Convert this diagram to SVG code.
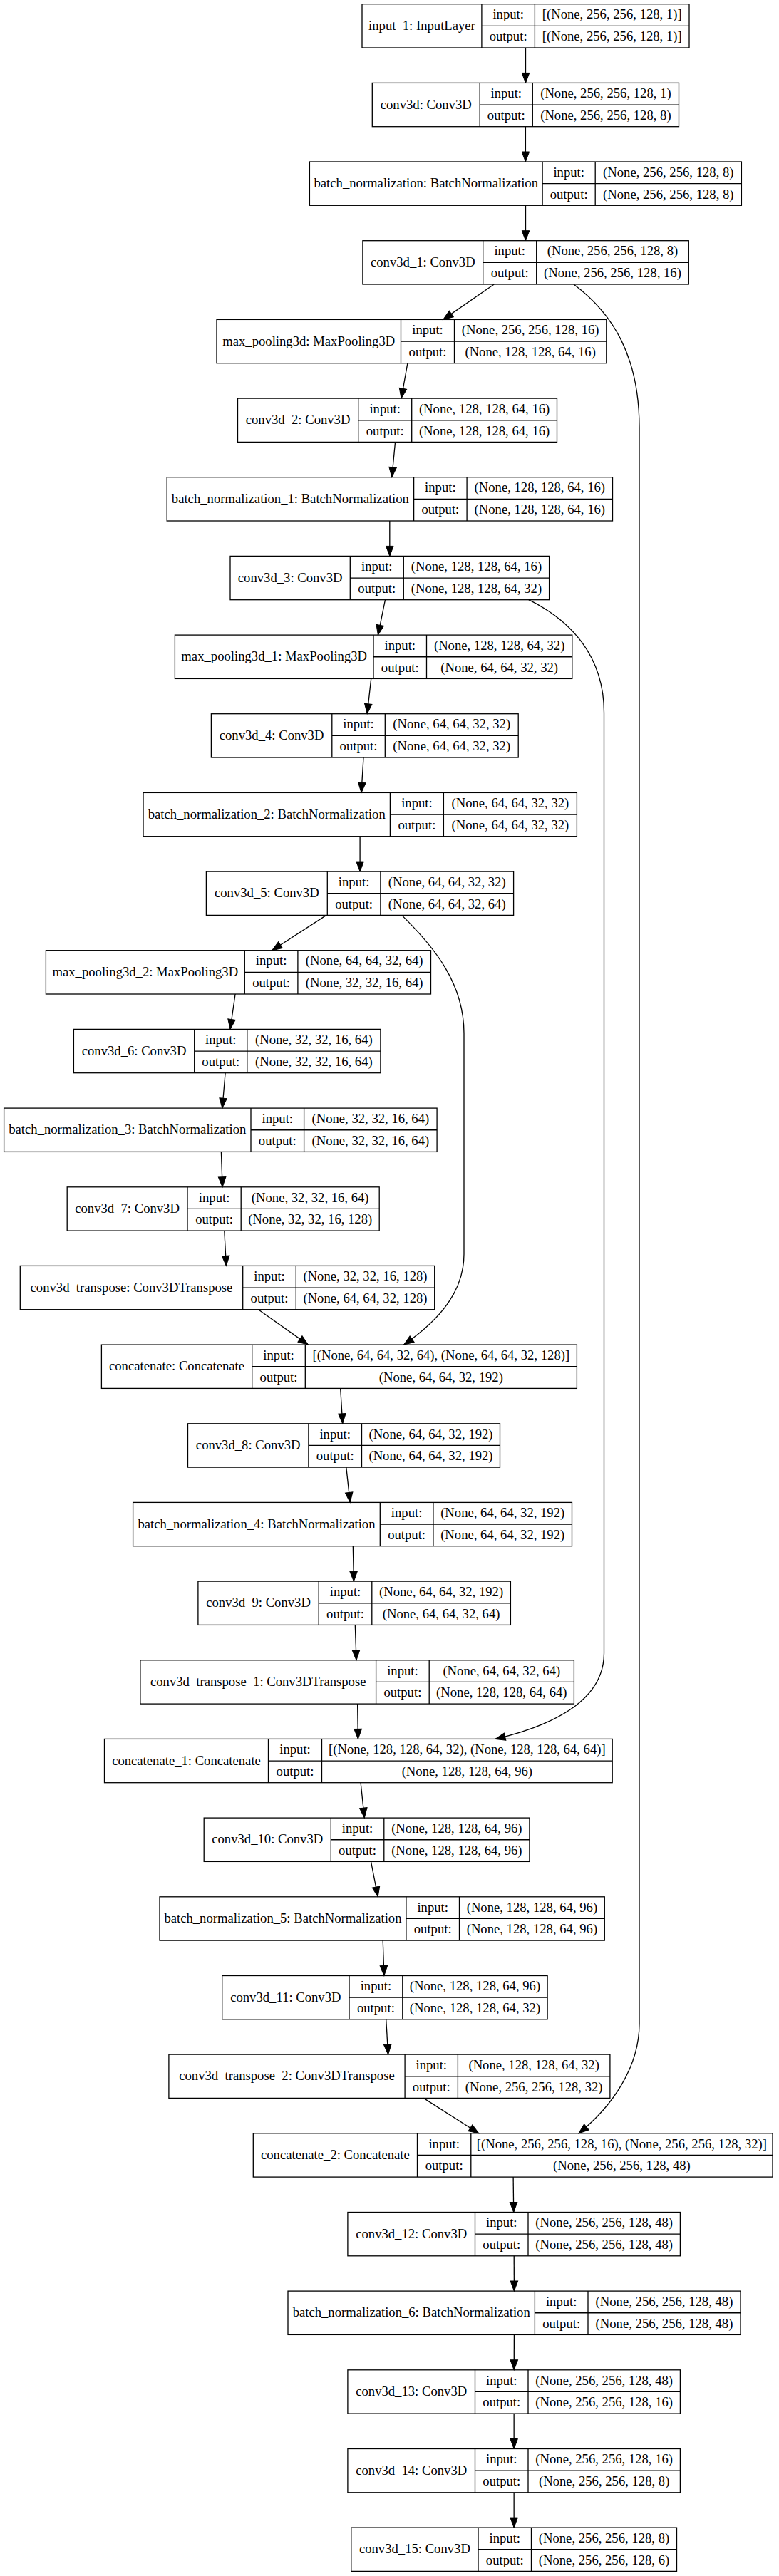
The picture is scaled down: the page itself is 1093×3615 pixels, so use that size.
<svg xmlns="http://www.w3.org/2000/svg" width="1093" height="3615" viewBox="0 0 1093 3615">
<style>
.b{fill:#fff;stroke:#000;stroke-width:1.3}
.l{fill:none;stroke:#000;stroke-width:1.3}
text{font-family:"Liberation Serif","Times New Roman",serif;font-size:18.67px;text-anchor:middle;fill:#000}
.e{fill:none;stroke:#000;stroke-width:1.3;marker-end:url(#ah)}
</style>
<defs>
<marker id="ah" markerUnits="userSpaceOnUse" markerWidth="16" markerHeight="12" refX="14" refY="5.25" orient="auto" overflow="visible"><path d="M0,0 L14,5.25 L0,10.5 z" fill="#000" stroke="#000" stroke-width="1"/></marker>
</defs>
<rect width="1093" height="3615" fill="#fff"/>
<g id="nodes">
<g id="input_1" transform="translate(0,5.7)"><rect class="b" x="508" y="0" width="459" height="61.3"/><path class="l" d="M675.9,0V61.3M750.4,0V61.3M675.9,30.65H967"/><text x="591.95" y="36.2">input_1: InputLayer</text><text x="713.15" y="20.8">input:</text><text x="713.15" y="51.5">output:</text><text x="858.7" y="20.8">[(None, 256, 256, 128, 1)]</text><text x="858.7" y="51.5">[(None, 256, 256, 128, 1)]</text></g>
<g id="conv3d" transform="translate(0,116.4)"><rect class="b" x="522.3" y="0" width="430.2" height="61.3"/><path class="l" d="M673.2,0V61.3M747.3,0V61.3M673.2,30.65H952.5"/><text x="597.75" y="36.2">conv3d: Conv3D</text><text x="710.25" y="20.8">input:</text><text x="710.25" y="51.5">output:</text><text x="849.9" y="20.8">(None, 256, 256, 128, 1)</text><text x="849.9" y="51.5">(None, 256, 256, 128, 8)</text></g>
<g id="batch_normalization" transform="translate(0,227)"><rect class="b" x="434.4" y="0" width="606" height="61.3"/><path class="l" d="M761.1,0V61.3M835.2,0V61.3M761.1,30.65H1040.4"/><text x="597.75" y="36.2">batch_normalization: BatchNormalization</text><text x="798.15" y="20.8">input:</text><text x="798.15" y="51.5">output:</text><text x="937.8" y="20.8">(None, 256, 256, 128, 8)</text><text x="937.8" y="51.5">(None, 256, 256, 128, 8)</text></g>
<g id="conv3d_1" transform="translate(0,337.7)"><rect class="b" x="508.9" y="0" width="457.4" height="61.3"/><path class="l" d="M677.7,0V61.3M752.7,0V61.3M677.7,30.65H966.3"/><text x="593.3" y="36.2">conv3d_1: Conv3D</text><text x="715.2" y="20.8">input:</text><text x="715.2" y="51.5">output:</text><text x="859.5" y="20.8">(None, 256, 256, 128, 8)</text><text x="859.5" y="51.5">(None, 256, 256, 128, 16)</text></g>
<g id="max_pooling3d" transform="translate(0,448.4)"><rect class="b" x="304" y="0" width="546.8" height="61.3"/><path class="l" d="M562.5,0V61.3M637.5,0V61.3M562.5,30.65H850.8"/><text x="433.25" y="36.2">max_pooling3d: MaxPooling3D</text><text x="600" y="20.8">input:</text><text x="600" y="51.5">output:</text><text x="744.15" y="20.8">(None, 256, 256, 128, 16)</text><text x="744.15" y="51.5">(None, 128, 128, 64, 16)</text></g>
<g id="conv3d_2" transform="translate(0,559.1)"><rect class="b" x="333.5" y="0" width="448" height="61.3"/><path class="l" d="M502.7,0V61.3M577.7,0V61.3M502.7,30.65H781.5"/><text x="418.1" y="36.2">conv3d_2: Conv3D</text><text x="540.2" y="20.8">input:</text><text x="540.2" y="51.5">output:</text><text x="679.6" y="20.8">(None, 128, 128, 64, 16)</text><text x="679.6" y="51.5">(None, 128, 128, 64, 16)</text></g>
<g id="batch_normalization_1" transform="translate(0,669.7)"><rect class="b" x="234.2" y="0" width="625.3" height="61.3"/><path class="l" d="M580.6,0V61.3M655.1,0V61.3M580.6,30.65H859.5"/><text x="407.4" y="36.2">batch_normalization_1: BatchNormalization</text><text x="617.85" y="20.8">input:</text><text x="617.85" y="51.5">output:</text><text x="757.3" y="20.8">(None, 128, 128, 64, 16)</text><text x="757.3" y="51.5">(None, 128, 128, 64, 16)</text></g>
<g id="conv3d_3" transform="translate(0,780.4)"><rect class="b" x="323" y="0" width="447.6" height="61.3"/><path class="l" d="M491.3,0V61.3M566.3,0V61.3M491.3,30.65H770.6"/><text x="407.15" y="36.2">conv3d_3: Conv3D</text><text x="528.8" y="20.8">input:</text><text x="528.8" y="51.5">output:</text><text x="668.45" y="20.8">(None, 128, 128, 64, 16)</text><text x="668.45" y="51.5">(None, 128, 128, 64, 32)</text></g>
<g id="max_pooling3d_1" transform="translate(0,891.1)"><rect class="b" x="245.4" y="0" width="557.4" height="61.3"/><path class="l" d="M524,0V61.3M598.5,0V61.3M524,30.65H802.8"/><text x="384.7" y="36.2">max_pooling3d_1: MaxPooling3D</text><text x="561.25" y="20.8">input:</text><text x="561.25" y="51.5">output:</text><text x="700.65" y="20.8">(None, 128, 128, 64, 32)</text><text x="700.65" y="51.5">(None, 64, 64, 32, 32)</text></g>
<g id="conv3d_4" transform="translate(0,1001.7)"><rect class="b" x="296.4" y="0" width="430.8" height="61.3"/><path class="l" d="M465.8,0V61.3M540.3,0V61.3M465.8,30.65H727.2"/><text x="381.1" y="36.2">conv3d_4: Conv3D</text><text x="503.05" y="20.8">input:</text><text x="503.05" y="51.5">output:</text><text x="633.75" y="20.8">(None, 64, 64, 32, 32)</text><text x="633.75" y="51.5">(None, 64, 64, 32, 32)</text></g>
<g id="batch_normalization_2" transform="translate(0,1112.4)"><rect class="b" x="201" y="0" width="608.4" height="61.3"/><path class="l" d="M547.4,0V61.3M622.4,0V61.3M547.4,30.65H809.4"/><text x="374.2" y="36.2">batch_normalization_2: BatchNormalization</text><text x="584.9" y="20.8">input:</text><text x="584.9" y="51.5">output:</text><text x="715.9" y="20.8">(None, 64, 64, 32, 32)</text><text x="715.9" y="51.5">(None, 64, 64, 32, 32)</text></g>
<g id="conv3d_5" transform="translate(0,1223.1)"><rect class="b" x="289.4" y="0" width="431.2" height="61.3"/><path class="l" d="M459.3,0V61.3M533.9,0V61.3M459.3,30.65H720.6"/><text x="374.35" y="36.2">conv3d_5: Conv3D</text><text x="496.6" y="20.8">input:</text><text x="496.6" y="51.5">output:</text><text x="627.25" y="20.8">(None, 64, 64, 32, 32)</text><text x="627.25" y="51.5">(None, 64, 64, 32, 64)</text></g>
<g id="max_pooling3d_2" transform="translate(0,1333.7)"><rect class="b" x="64.4" y="0" width="540.1" height="61.3"/><path class="l" d="M343.3,0V61.3M417.9,0V61.3M343.3,30.65H604.5"/><text x="203.85" y="36.2">max_pooling3d_2: MaxPooling3D</text><text x="380.6" y="20.8">input:</text><text x="380.6" y="51.5">output:</text><text x="511.2" y="20.8">(None, 64, 64, 32, 64)</text><text x="511.2" y="51.5">(None, 32, 32, 16, 64)</text></g>
<g id="conv3d_6" transform="translate(0,1444.4)"><rect class="b" x="103.4" y="0" width="430.5" height="61.3"/><path class="l" d="M272.7,0V61.3M346.8,0V61.3M272.7,30.65H533.9"/><text x="188.05" y="36.2">conv3d_6: Conv3D</text><text x="309.75" y="20.8">input:</text><text x="309.75" y="51.5">output:</text><text x="440.35" y="20.8">(None, 32, 32, 16, 64)</text><text x="440.35" y="51.5">(None, 32, 32, 16, 64)</text></g>
<g id="batch_normalization_3" transform="translate(0,1555.1)"><rect class="b" x="5.6" y="0" width="607.5" height="61.3"/><path class="l" d="M352,0V61.3M426.6,0V61.3M352,30.65H613.1"/><text x="178.8" y="36.2">batch_normalization_3: BatchNormalization</text><text x="389.3" y="20.8">input:</text><text x="389.3" y="51.5">output:</text><text x="519.85" y="20.8">(None, 32, 32, 16, 64)</text><text x="519.85" y="51.5">(None, 32, 32, 16, 64)</text></g>
<g id="conv3d_7" transform="translate(0,1665.8)"><rect class="b" x="94.2" y="0" width="438" height="61.3"/><path class="l" d="M263,0V61.3M338.2,0V61.3M263,30.65H532.2"/><text x="178.6" y="36.2">conv3d_7: Conv3D</text><text x="300.6" y="20.8">input:</text><text x="300.6" y="51.5">output:</text><text x="435.2" y="20.8">(None, 32, 32, 16, 64)</text><text x="435.2" y="51.5">(None, 32, 32, 16, 128)</text></g>
<g id="conv3d_transpose" transform="translate(0,1776.4)"><rect class="b" x="28.3" y="0" width="581.4" height="61.3"/><path class="l" d="M340.7,0V61.3M415.3,0V61.3M340.7,30.65H609.7"/><text x="184.5" y="36.2">conv3d_transpose: Conv3DTranspose</text><text x="378" y="20.8">input:</text><text x="378" y="51.5">output:</text><text x="512.5" y="20.8">(None, 32, 32, 16, 128)</text><text x="512.5" y="51.5">(None, 64, 64, 32, 128)</text></g>
<g id="concatenate" transform="translate(0,1887.1)"><rect class="b" x="142.4" y="0" width="667" height="61.3"/><path class="l" d="M353.7,0V61.3M428.3,0V61.3M353.7,30.65H809.4"/><text x="248.05" y="36.2">concatenate: Concatenate</text><text x="391" y="20.8">input:</text><text x="391" y="51.5">output:</text><text x="618.85" y="20.8">[(None, 64, 64, 32, 64), (None, 64, 64, 32, 128)]</text><text x="618.85" y="51.5">(None, 64, 64, 32, 192)</text></g>
<g id="conv3d_8" transform="translate(0,1997.8)"><rect class="b" x="263.5" y="0" width="438" height="61.3"/><path class="l" d="M432.9,0V61.3M507.5,0V61.3M432.9,30.65H701.5"/><text x="348.2" y="36.2">conv3d_8: Conv3D</text><text x="470.2" y="20.8">input:</text><text x="470.2" y="51.5">output:</text><text x="604.5" y="20.8">(None, 64, 64, 32, 192)</text><text x="604.5" y="51.5">(None, 64, 64, 32, 192)</text></g>
<g id="batch_normalization_4" transform="translate(0,2108.4)"><rect class="b" x="186.6" y="0" width="615.9" height="61.3"/><path class="l" d="M533.3,0V61.3M607.9,0V61.3M533.3,30.65H802.5"/><text x="359.95" y="36.2">batch_normalization_4: BatchNormalization</text><text x="570.6" y="20.8">input:</text><text x="570.6" y="51.5">output:</text><text x="705.2" y="20.8">(None, 64, 64, 32, 192)</text><text x="705.2" y="51.5">(None, 64, 64, 32, 192)</text></g>
<g id="conv3d_9" transform="translate(0,2219.1)"><rect class="b" x="277.9" y="0" width="438.5" height="61.3"/><path class="l" d="M447.2,0V61.3M521.8,0V61.3M447.2,30.65H716.4"/><text x="362.55" y="36.2">conv3d_9: Conv3D</text><text x="484.5" y="20.8">input:</text><text x="484.5" y="51.5">output:</text><text x="619.1" y="20.8">(None, 64, 64, 32, 192)</text><text x="619.1" y="51.5">(None, 64, 64, 32, 64)</text></g>
<g id="conv3d_transpose_1" transform="translate(0,2329.8)"><rect class="b" x="196.9" y="0" width="608.5" height="61.3"/><path class="l" d="M527.6,0V61.3M602.2,0V61.3M527.6,30.65H805.4"/><text x="362.25" y="36.2">conv3d_transpose_1: Conv3DTranspose</text><text x="564.9" y="20.8">input:</text><text x="564.9" y="51.5">output:</text><text x="703.8" y="20.8">(None, 64, 64, 32, 64)</text><text x="703.8" y="51.5">(None, 128, 128, 64, 64)</text></g>
<g id="concatenate_1" transform="translate(0,2440.4)"><rect class="b" x="146.5" y="0" width="712.7" height="61.3"/><path class="l" d="M376.5,0V61.3M451.5,0V61.3M376.5,30.65H859.2"/><text x="261.5" y="36.2">concatenate_1: Concatenate</text><text x="414" y="20.8">input:</text><text x="414" y="51.5">output:</text><text x="655.35" y="20.8">[(None, 128, 128, 64, 32), (None, 128, 128, 64, 64)]</text><text x="655.35" y="51.5">(None, 128, 128, 64, 96)</text></g>
<g id="conv3d_10" transform="translate(0,2551.1)"><rect class="b" x="286.2" y="0" width="456.7" height="61.3"/><path class="l" d="M464.3,0V61.3M538.8,0V61.3M464.3,30.65H742.9"/><text x="375.25" y="36.2">conv3d_10: Conv3D</text><text x="501.55" y="20.8">input:</text><text x="501.55" y="51.5">output:</text><text x="640.85" y="20.8">(None, 128, 128, 64, 96)</text><text x="640.85" y="51.5">(None, 128, 128, 64, 96)</text></g>
<g id="batch_normalization_5" transform="translate(0,2661.8)"><rect class="b" x="224" y="0" width="624.3" height="61.3"/><path class="l" d="M569.9,0V61.3M644.5,0V61.3M569.9,30.65H848.3"/><text x="396.95" y="36.2">batch_normalization_5: BatchNormalization</text><text x="607.2" y="20.8">input:</text><text x="607.2" y="51.5">output:</text><text x="746.4" y="20.8">(None, 128, 128, 64, 96)</text><text x="746.4" y="51.5">(None, 128, 128, 64, 96)</text></g>
<g id="conv3d_11" transform="translate(0,2772.5)"><rect class="b" x="311.7" y="0" width="456.4" height="61.3"/><path class="l" d="M490,0V61.3M564.8,0V61.3M490,30.65H768.1"/><text x="400.85" y="36.2">conv3d_11: Conv3D</text><text x="527.4" y="20.8">input:</text><text x="527.4" y="51.5">output:</text><text x="666.45" y="20.8">(None, 128, 128, 64, 96)</text><text x="666.45" y="51.5">(None, 128, 128, 64, 32)</text></g>
<g id="conv3d_transpose_2" transform="translate(0,2883.1)"><rect class="b" x="236.9" y="0" width="619" height="61.3"/><path class="l" d="M568.1,0V61.3M642.4,0V61.3M568.1,30.65H855.9"/><text x="402.5" y="36.2">conv3d_transpose_2: Conv3DTranspose</text><text x="605.25" y="20.8">input:</text><text x="605.25" y="51.5">output:</text><text x="749.15" y="20.8">(None, 128, 128, 64, 32)</text><text x="749.15" y="51.5">(None, 256, 256, 128, 32)</text></g>
<g id="concatenate_2" transform="translate(0,2993.8)"><rect class="b" x="355.3" y="0" width="728.7" height="61.3"/><path class="l" d="M585.5,0V61.3M660.8,0V61.3M585.5,30.65H1084"/><text x="470.4" y="36.2">concatenate_2: Concatenate</text><text x="623.15" y="20.8">input:</text><text x="623.15" y="51.5">output:</text><text x="872.4" y="20.8">[(None, 256, 256, 128, 16), (None, 256, 256, 128, 32)]</text><text x="872.4" y="51.5">(None, 256, 256, 128, 48)</text></g>
<g id="conv3d_12" transform="translate(0,3104.5)"><rect class="b" x="487.9" y="0" width="466.5" height="61.3"/><path class="l" d="M666.5,0V61.3M741,0V61.3M666.5,30.65H954.4"/><text x="577.2" y="36.2">conv3d_12: Conv3D</text><text x="703.75" y="20.8">input:</text><text x="703.75" y="51.5">output:</text><text x="847.7" y="20.8">(None, 256, 256, 128, 48)</text><text x="847.7" y="51.5">(None, 256, 256, 128, 48)</text></g>
<g id="batch_normalization_6" transform="translate(0,3215.1)"><rect class="b" x="404" y="0" width="635" height="61.3"/><path class="l" d="M750.4,0V61.3M825,0V61.3M750.4,30.65H1039"/><text x="577.2" y="36.2">batch_normalization_6: BatchNormalization</text><text x="787.7" y="20.8">input:</text><text x="787.7" y="51.5">output:</text><text x="932" y="20.8">(None, 256, 256, 128, 48)</text><text x="932" y="51.5">(None, 256, 256, 128, 48)</text></g>
<g id="conv3d_13" transform="translate(0,3325.8)"><rect class="b" x="487.9" y="0" width="466.5" height="61.3"/><path class="l" d="M666.5,0V61.3M741,0V61.3M666.5,30.65H954.4"/><text x="577.2" y="36.2">conv3d_13: Conv3D</text><text x="703.75" y="20.8">input:</text><text x="703.75" y="51.5">output:</text><text x="847.7" y="20.8">(None, 256, 256, 128, 48)</text><text x="847.7" y="51.5">(None, 256, 256, 128, 16)</text></g>
<g id="conv3d_14" transform="translate(0,3436.5)"><rect class="b" x="487.9" y="0" width="466.5" height="61.3"/><path class="l" d="M666.5,0V61.3M741,0V61.3M666.5,30.65H954.4"/><text x="577.2" y="36.2">conv3d_14: Conv3D</text><text x="703.75" y="20.8">input:</text><text x="703.75" y="51.5">output:</text><text x="847.7" y="20.8">(None, 256, 256, 128, 16)</text><text x="847.7" y="51.5">(None, 256, 256, 128, 8)</text></g>
<g id="conv3d_15" transform="translate(0,3547.1)"><rect class="b" x="492.8" y="0" width="456.7" height="61.3"/><path class="l" d="M671,0V61.3M745.5,0V61.3M671,30.65H949.5"/><text x="581.9" y="36.2">conv3d_15: Conv3D</text><text x="708.25" y="20.8">input:</text><text x="708.25" y="51.5">output:</text><text x="847.5" y="20.8">(None, 256, 256, 128, 8)</text><text x="847.5" y="51.5">(None, 256, 256, 128, 6)</text></g>
</g>
<g id="edges">
<path class="e" d="M737.5,67L737.5,116.4"/>
<path class="e" d="M737.4,177.7L737.4,227"/>
<path class="e" d="M737.5,288.3L737.5,337.7"/>
<path class="e" d="M693.2,399L621.8,448.4"/>
<path class="e" d="M571.9,509.7L563,559.1"/>
<path class="e" d="M554.55,620.4L549.8,669.7"/>
<path class="e" d="M546.8,731L546.8,780.4"/>
<path class="e" d="M540.5,841.7L530.4,891.1"/>
<path class="e" d="M520.7,952.4L515.2,1001.7"/>
<path class="e" d="M510,1063L507,1112.4"/>
<path class="e" d="M505.1,1173.7L505.1,1223.1"/>
<path class="e" d="M457.8,1284.4L381.7,1333.7"/>
<path class="e" d="M330.1,1395L323,1444.4"/>
<path class="e" d="M316.1,1505.7L311.9,1555.1"/>
<path class="e" d="M310.4,1616.4L312.1,1665.8"/>
<path class="e" d="M314.8,1727.1L317.4,1776.4"/>
<path class="e" d="M362.5,1837.7L432.4,1887.1"/>
<path class="e" d="M477.7,1948.4L480.7,1997.8"/>
<path class="e" d="M485.8,2059.1L491.2,2108.4"/>
<path class="e" d="M495.3,2169.7L496.4,2219.1"/>
<path class="e" d="M498.3,2280.4L500,2329.8"/>
<path class="e" d="M501.6,2391.1L502.4,2440.4"/>
<path class="e" d="M506.1,2501.7L511.3,2551.1"/>
<path class="e" d="M520.5,2612.4L530.2,2661.8"/>
<path class="e" d="M537.2,2723.1L538.9,2772.5"/>
<path class="e" d="M541.7,2833.8L544.6,2883.1"/>
<path class="e" d="M594.4,2944.4L671.7,2993.8"/>
<path class="e" d="M720.1,3055.1L720.7,3104.5"/>
<path class="e" d="M721.2,3165.8L721.4,3215.1"/>
<path class="e" d="M721.4,3276.4L721.2,3325.8"/>
<path class="e" d="M721.15,3387.1L721.15,3436.5"/>
<path class="e" d="M721.15,3497.8L721.15,3547.1"/>
<path class="e" d="M805,399C860,440 897,500 897,600L897,2840C897,2900 860,2955 812,2993.8"/>
<path class="e" d="M741.8,841.7C800,870 847.5,920 847.5,1000L847.5,2320C847.5,2380 790,2418 695,2440.4"/>
<path class="e" d="M563.8,1284.4C610,1330 651,1380 651,1450L651,1760C651,1810 620,1850 566.6,1887.1"/>
</g>
</svg>
